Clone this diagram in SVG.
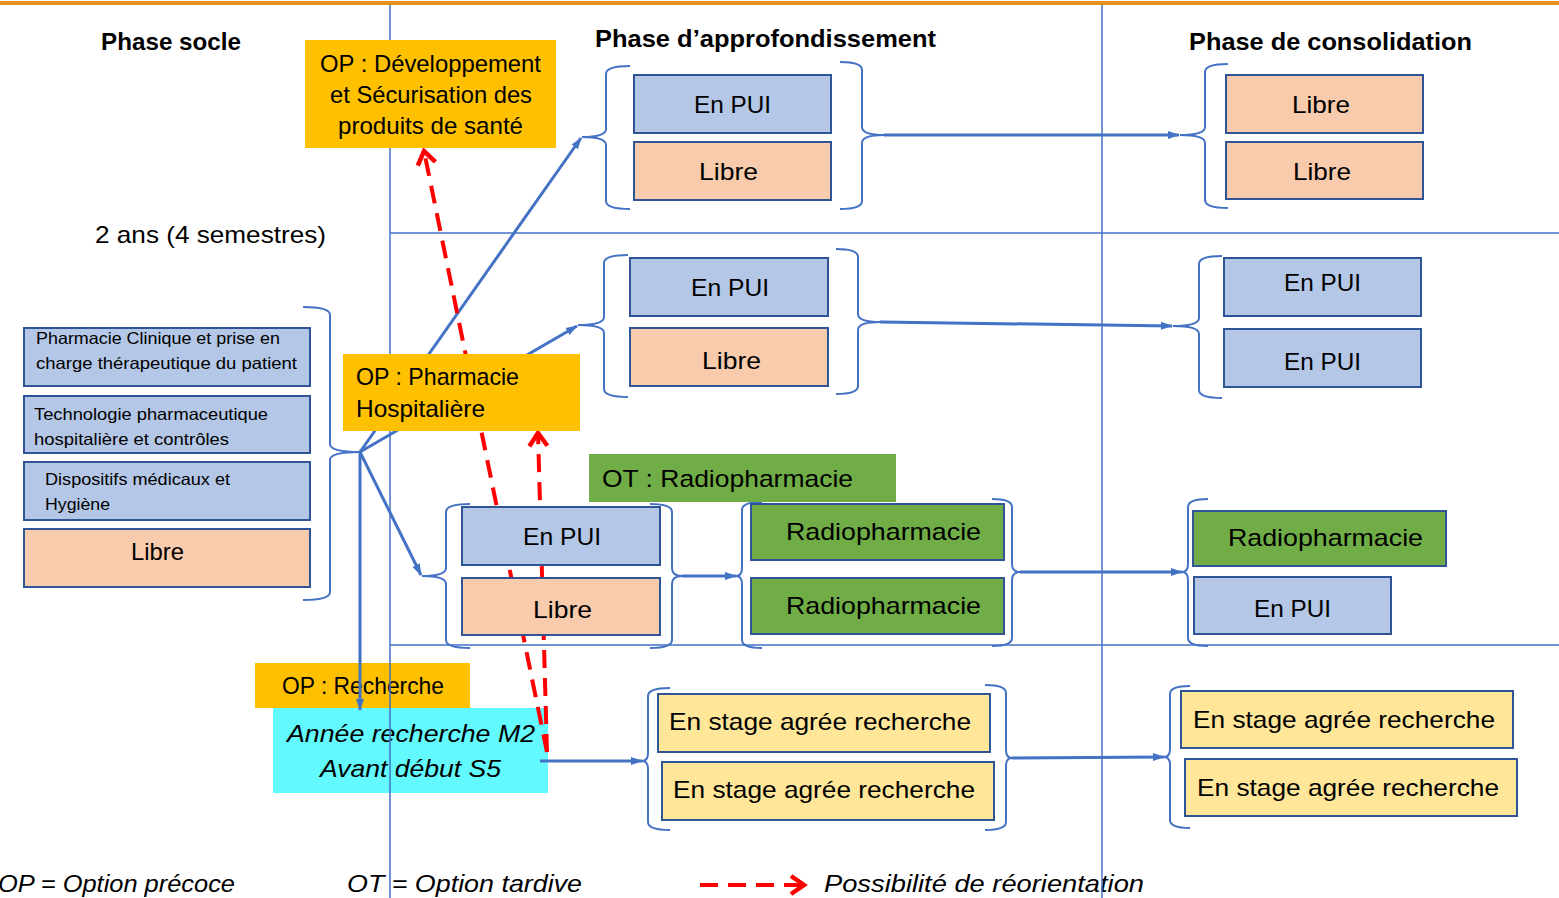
<svg xmlns="http://www.w3.org/2000/svg" width="1559" height="898" viewBox="0 0 1559 898">
<defs>
<style>
.t{font-family:"Liberation Sans",Arial,sans-serif;fill:#000;font-size:24px}
.b{font-weight:bold}
.i{font-style:italic}
.s{font-size:16.5px}
.bl{fill:#B4C7E7;stroke:#2F5597;stroke-width:2}
.lb{fill:#F8CBAD;stroke:#2F5597;stroke-width:2}
.gr{fill:#70AD47;stroke:#2F5597;stroke-width:2}
.ye{fill:#FFE699;stroke:#2F5597;stroke-width:2}
.op{fill:#FFC000}
.grid{stroke:#4472C4;stroke-width:1.5;fill:none}
.br{fill:none;stroke:#4472C4;stroke-width:2}
.ar{fill:none;stroke:#4472C4;stroke-width:3;marker-end:url(#ab)}
.rd{fill:none;stroke:#FF0000;stroke-width:4;stroke-dasharray:18 10;marker-end:url(#ar)}
</style>
<marker id="ab" viewBox="0 0 12 10" refX="11" refY="5" markerWidth="12" markerHeight="10" markerUnits="userSpaceOnUse" orient="auto"><path d="M0,1 L12,5 L0,9 z" fill="#4472C4"/></marker>
<marker id="ar" viewBox="0 0 24 24" refX="19" refY="12" markerWidth="24" markerHeight="24" markerUnits="userSpaceOnUse" orient="auto"><path d="M6,3 L19,12 L6,21" fill="none" stroke="#FF0000" stroke-width="4.5"/></marker>
</defs>
<rect width="1559" height="898" fill="#FFFFFF"/>
<line x1="0" y1="3" x2="1559" y2="3" stroke="#E8921E" stroke-width="4"/>

<g id="titles">
<text class="t b" x="101" y="50" textLength="140" lengthAdjust="spacingAndGlyphs">Phase socle</text>
<text class="t b" x="595" y="47" textLength="341" lengthAdjust="spacingAndGlyphs">Phase d’approfondissement</text>
<text class="t b" x="1189" y="50" textLength="283" lengthAdjust="spacingAndGlyphs">Phase de consolidation</text>
<text class="t" x="95" y="243" textLength="231" lengthAdjust="spacingAndGlyphs">2 ans (4 semestres)</text>
</g>

<g id="op-recherche">
<rect class="op" x="255" y="663" width="215" height="45"/>
<text class="t" x="282" y="694" font-size="23" textLength="162" lengthAdjust="spacingAndGlyphs">OP : Recherche</text>
</g>
<g id="annee-recherche">
<rect x="273" y="708" width="275" height="85" fill="#62F9FF"/>
<text class="t i" x="287" y="742" textLength="248" lengthAdjust="spacingAndGlyphs">Année recherche M2</text>
<text class="t i" x="320" y="777" textLength="181" lengthAdjust="spacingAndGlyphs">Avant début S5</text>
</g>

<g id="legend">
<text class="t i" x="-2" y="892" textLength="237" lengthAdjust="spacingAndGlyphs">OP = Option précoce</text>
<text class="t i" x="347" y="892" textLength="235" lengthAdjust="spacingAndGlyphs">OT = Option tardive</text>
<text class="t i" x="824" y="892" textLength="320" lengthAdjust="spacingAndGlyphs">Possibilité de réorientation</text>
<path class="rd" d="M700,885 L804,885"/>
</g>

<g id="grid">
<line class="grid" x1="390" y1="5" x2="390" y2="898"/>
<line class="grid" x1="1102" y1="5" x2="1102" y2="898"/>
<line class="grid" x1="390" y1="233" x2="1559" y2="233"/>
<line class="grid" x1="390" y1="645" x2="1559" y2="645"/>
</g>

<g id="connectors">
<path class="ar" d="M360,452 L581,138"/>
<path class="ar" d="M360,452 L577,326"/>
<path class="ar" d="M360,452 L421,575"/>
<path class="ar" d="M360,452 L360,710"/>
<path class="ar" d="M884,135 L1179,135"/>
<path class="ar" d="M880,322 L1172,326"/>
<path class="ar" d="M682,576 L736,576"/>
<path class="ar" d="M1020,572 L1182,572"/>
<path class="ar" d="M540,761 L642,761"/>
<path class="ar" d="M1012,758 L1164,757"/>
<path class="rd" d="M547,752 L538,433"/>
<path class="rd" d="M547,752 L424,151"/>
</g>

<g id="braces">
<path class="br" d="M630,66 Q606,66 606,74 L606,129 Q606,137 582,137 Q606,137 606,145 L606,201 Q606,209 630,209"/>
<path class="br" d="M840,62 Q862,62 862,70 L862,127 Q862,135 884,135 Q862,135 862,143 L862,201 Q862,209 840,209"/>
<path class="br" d="M1228,64 Q1205,64 1205,72 L1205,127 Q1205,135 1180,135 Q1205,135 1205,143 L1205,200 Q1205,208 1228,208"/>
<path class="br" d="M628,255 Q604,255 604,263 L604,317 Q604,325 578,325 Q604,325 604,333 L604,389 Q604,397 628,397"/>
<path class="br" d="M836,249 Q858,249 858,257 L858,314 Q858,322 880,322 Q858,322 858,330 L858,386 Q858,394 836,394"/>
<path class="br" d="M1222,256 Q1199,256 1199,264 L1199,318 Q1199,326 1173,326 Q1199,326 1199,334 L1199,390 Q1199,398 1222,398"/>
<path class="br" d="M303,307 Q330,307 330,315 L330,444 Q330,452 360,452 Q330,452 330,460 L330,592 Q330,600 303,600"/>
<path class="br" d="M470,504 Q446,504 446,512 L446,568 Q446,576 422,576 Q446,576 446,584 L446,640 Q446,648 470,648"/>
<path class="br" d="M650,504 Q672,504 672,512 L672,568 Q672,576 682,576 Q672,576 672,584 L672,640 Q672,648 650,648"/>
<path class="br" d="M762,502 Q742,502 742,510 L742,568 Q742,576 736,576 Q742,576 742,584 L742,640 Q742,648 762,648"/>
<path class="br" d="M992,499 Q1012,499 1012,507 L1012,564 Q1012,572 1020,572 Q1012,572 1012,580 L1012,638 Q1012,646 992,646"/>
<path class="br" d="M1208,499 Q1188,499 1188,507 L1188,564 Q1188,572 1182,572 Q1188,572 1188,580 L1188,638 Q1188,646 1208,646"/>
<path class="br" d="M670,688 Q648,688 648,696 L648,753 Q648,761 642,761 Q648,761 648,769 L648,822 Q648,830 670,830"/>
<path class="br" d="M985,685 Q1006,685 1006,693 L1006,750 Q1006,758 1012,758 Q1006,758 1006,766 L1006,822 Q1006,830 985,830"/>
<path class="br" d="M1190,686 Q1170,686 1170,694 L1170,749 Q1170,757 1164,757 Q1170,757 1170,765 L1170,820 Q1170,828 1190,828"/>
</g>

<g id="op-developpement">
<rect class="op" x="305" y="40" width="251" height="108"/>
<text class="t" x="320" y="72" font-size="22" textLength="221" lengthAdjust="spacingAndGlyphs">OP : Développement</text>
<text class="t" x="330" y="103" font-size="22" textLength="202" lengthAdjust="spacingAndGlyphs">et Sécurisation des</text>
<text class="t" x="338" y="134" font-size="22" textLength="185" lengthAdjust="spacingAndGlyphs">produits de santé</text>
</g>
<g id="op-pharmacie">
<rect class="op" x="343" y="354" width="237" height="77"/>
<text class="t" x="356" y="385" font-size="22" textLength="163" lengthAdjust="spacingAndGlyphs">OP : Pharmacie</text>
<text class="t" x="356" y="417" font-size="22" textLength="129" lengthAdjust="spacingAndGlyphs">Hospitalière</text>
</g>
<g id="ot-radio">
<rect x="589" y="454" width="307" height="48" fill="#70AD47"/>
<text class="t" x="602" y="487" textLength="251" lengthAdjust="spacingAndGlyphs">OT : Radiopharmacie</text>
</g>

<g id="socle-1">
<rect class="bl" x="24" y="328" width="286" height="58"/>
<text class="t s" x="36" y="344" textLength="244" lengthAdjust="spacingAndGlyphs">Pharmacie Clinique et prise en</text>
<text class="t s" x="36" y="369" textLength="261" lengthAdjust="spacingAndGlyphs">charge thérapeutique du patient</text>
</g>
<g id="socle-2">
<rect class="bl" x="24" y="396" width="286" height="57"/>
<text class="t s" x="34" y="420" textLength="234" lengthAdjust="spacingAndGlyphs">Technologie pharmaceutique</text>
<text class="t s" x="34" y="445" textLength="195" lengthAdjust="spacingAndGlyphs">hospitalière et contrôles</text>
</g>
<g id="socle-3">
<rect class="bl" x="24" y="462" width="286" height="58"/>
<text class="t s" x="45" y="485" textLength="185" lengthAdjust="spacingAndGlyphs">Dispositifs médicaux et</text>
<text class="t s" x="45" y="510" textLength="65" lengthAdjust="spacingAndGlyphs">Hygiène</text>
</g>
<g id="socle-4">
<rect class="lb" x="24" y="529" width="286" height="58"/>
<text class="t" x="131" y="560" font-size="22" textLength="53" lengthAdjust="spacingAndGlyphs">Libre</text>
</g>

<g id="a1-pui">
<rect class="bl" x="634" y="75" width="197" height="58"/>
<text class="t" x="694" y="113" textLength="77" lengthAdjust="spacingAndGlyphs">En PUI</text>
</g>
<g id="a1-libre">
<rect class="lb" x="634" y="142" width="197" height="58"/>
<text class="t" x="699" y="180" textLength="59" lengthAdjust="spacingAndGlyphs">Libre</text>
</g>
<g id="c1-libre-a">
<rect class="lb" x="1226" y="75" width="197" height="58"/>
<text class="t" x="1292" y="113" textLength="58" lengthAdjust="spacingAndGlyphs">Libre</text>
</g>
<g id="c1-libre-b">
<rect class="lb" x="1226" y="142" width="197" height="57"/>
<text class="t" x="1293" y="180" textLength="58" lengthAdjust="spacingAndGlyphs">Libre</text>
</g>

<g id="a2-pui">
<rect class="bl" x="630" y="258" width="198" height="58"/>
<text class="t" x="691" y="296" textLength="78" lengthAdjust="spacingAndGlyphs">En PUI</text>
</g>
<g id="a2-libre">
<rect class="lb" x="630" y="328" width="198" height="58"/>
<text class="t" x="702" y="369" textLength="59" lengthAdjust="spacingAndGlyphs">Libre</text>
</g>
<g id="c2-pui-a">
<rect class="bl" x="1224" y="258" width="197" height="58"/>
<text class="t" x="1284" y="291" textLength="77" lengthAdjust="spacingAndGlyphs">En PUI</text>
</g>
<g id="c2-pui-b">
<rect class="bl" x="1224" y="329" width="197" height="58"/>
<text class="t" x="1284" y="370" textLength="77" lengthAdjust="spacingAndGlyphs">En PUI</text>
</g>

<g id="a3-pui">
<rect class="bl" x="462" y="507" width="198" height="58"/>
<text class="t" x="523" y="545" textLength="78" lengthAdjust="spacingAndGlyphs">En PUI</text>
</g>
<g id="a3-libre">
<rect class="lb" x="462" y="578" width="198" height="57"/>
<text class="t" x="533" y="618" textLength="59" lengthAdjust="spacingAndGlyphs">Libre</text>
</g>
<g id="a3-radio-a">
<rect class="gr" x="751" y="504" width="253" height="56"/>
<text class="t" x="786" y="540" textLength="195" lengthAdjust="spacingAndGlyphs">Radiopharmacie</text>
</g>
<g id="a3-radio-b">
<rect class="gr" x="751" y="578" width="253" height="56"/>
<text class="t" x="786" y="614" textLength="195" lengthAdjust="spacingAndGlyphs">Radiopharmacie</text>
</g>
<g id="c3-radio">
<rect class="gr" x="1193" y="511" width="253" height="55"/>
<text class="t" x="1228" y="546" textLength="195" lengthAdjust="spacingAndGlyphs">Radiopharmacie</text>
</g>
<g id="c3-pui">
<rect class="bl" x="1194" y="577" width="197" height="57"/>
<text class="t" x="1254" y="617" textLength="77" lengthAdjust="spacingAndGlyphs">En PUI</text>
</g>

<g id="a4-stage-a">
<rect class="ye" x="658" y="694" width="332" height="58"/>
<text class="t" x="669" y="730" textLength="302" lengthAdjust="spacingAndGlyphs">En stage agrée recherche</text>
</g>
<g id="a4-stage-b">
<rect class="ye" x="662" y="762" width="332" height="58"/>
<text class="t" x="673" y="798" textLength="302" lengthAdjust="spacingAndGlyphs">En stage agrée recherche</text>
</g>
<g id="c4-stage-a">
<rect class="ye" x="1181" y="691" width="332" height="57"/>
<text class="t" x="1193" y="728" textLength="302" lengthAdjust="spacingAndGlyphs">En stage agrée recherche</text>
</g>
<g id="c4-stage-b">
<rect class="ye" x="1185" y="759" width="332" height="57"/>
<text class="t" x="1197" y="796" textLength="302" lengthAdjust="spacingAndGlyphs">En stage agrée recherche</text>
</g>
</svg>
